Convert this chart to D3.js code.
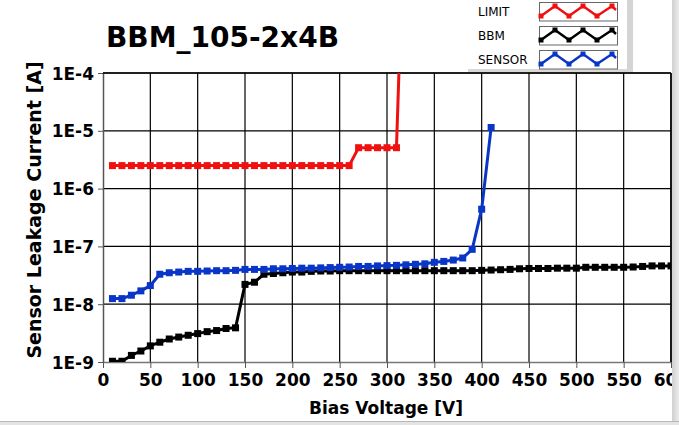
<!DOCTYPE html>
<html>
<head>
<meta charset="utf-8">
<script src="https://cdn.jsdelivr.net/npm/d3@7"></script>
<style>
  body { margin: 0; background: #fff; }
  text { font-family: "DejaVu Sans", Verdana, sans-serif; }
</style>
</head>
<body>
<div id="chart"></div>
<script>
var limitVoltage = [10, 20, 30, 40, 50, 60, 70, 80, 90, 100, 110, 120, 130, 140, 150, 160, 170, 180, 190, 200, 210, 220, 230, 240, 250, 260, 270, 280, 290, 300, 310, 320];
var limitCurrent = [2.5e-6, 2.5e-6, 2.5e-6, 2.5e-6, 2.5e-6, 2.5e-6, 2.5e-6, 2.5e-6, 2.5e-6, 2.5e-6, 2.5e-6, 2.5e-6, 2.5e-6, 2.5e-6, 2.5e-6, 2.5e-6, 2.5e-6, 2.5e-6, 2.5e-6, 2.5e-6, 2.5e-6, 2.5e-6, 2.5e-6, 2.5e-6, 2.5e-6, 2.5e-6, 5.1e-6, 5.1e-6, 5.1e-6, 5.1e-6, 5.1e-6, 0.5];

var bbmVoltage = [10, 20, 30, 40, 50, 60, 70, 80, 90, 100, 110, 120, 130, 140, 150, 160, 170, 180, 190, 200, 210, 220, 230, 240, 250, 260, 270, 280, 290, 300, 310, 320, 330, 340, 350, 360, 370, 380, 390, 400, 410, 420, 430, 440, 450, 460, 470, 480, 490, 500, 510, 520, 530, 540, 550, 560, 570, 580, 590, 600];
var bbmCurrent = [1.03e-9, 1.03e-9, 1.3e-9, 1.55e-9, 1.9e-9, 2.2e-9, 2.5e-9, 2.7e-9, 2.9e-9, 3.1e-9, 3.35e-9, 3.5e-9, 3.8e-9, 3.9e-9, 2.2e-8, 2.4e-8, 3.3e-8, 3.4e-8, 3.5e-8, 3.6e-8, 3.6e-8, 3.7e-8, 3.75e-8, 3.75e-8, 3.8e-8, 3.8e-8, 3.8e-8, 3.8e-8, 3.8e-8, 3.8e-8, 3.8e-8, 3.8e-8, 3.8e-8, 3.8e-8, 3.8e-8, 3.8e-8, 3.8e-8, 3.8e-8, 3.8e-8, 3.85e-8, 3.9e-8, 3.95e-8, 4.0e-8, 4.1e-8, 4.15e-8, 4.15e-8, 4.15e-8, 4.2e-8, 4.2e-8, 4.2e-8, 4.35e-8, 4.35e-8, 4.35e-8, 4.35e-8, 4.35e-8, 4.4e-8, 4.5e-8, 4.6e-8, 4.6e-8, 4.6e-8];

var sensorVoltage = [10, 20, 30, 40, 50, 60, 70, 80, 90, 100, 110, 120, 130, 140, 150, 160, 170, 180, 190, 200, 210, 220, 230, 240, 250, 260, 270, 280, 290, 300, 310, 320, 330, 340, 350, 360, 370, 380, 390, 400, 410];
var sensorCurrent = [1.25e-8, 1.25e-8, 1.43e-8, 1.7e-8, 2.1e-8, 3.3e-8, 3.5e-8, 3.6e-8, 3.7e-8, 3.7e-8, 3.75e-8, 3.8e-8, 3.8e-8, 3.85e-8, 4.0e-8, 4.0e-8, 4.0e-8, 4.1e-8, 4.1e-8, 4.15e-8, 4.2e-8, 4.2e-8, 4.25e-8, 4.3e-8, 4.35e-8, 4.4e-8, 4.5e-8, 4.5e-8, 4.6e-8, 4.65e-8, 4.7e-8, 4.8e-8, 4.9e-8, 5.0e-8, 5.3e-8, 5.5e-8, 5.8e-8, 6.3e-8, 8.9e-8, 4.4e-7, 1.14e-5];

var xTicks = [0, 50, 100, 150, 200, 250, 300, 350, 400, 450, 500, 550, 600];
var yTicks = [1e-9, 1e-8, 1e-7, 1e-6, 1e-5, 1e-4];

var seriesNames = ["LIMIT", "BBM", "SENSOR"];
var seriesColors = ["#f01010", "#000000", "#0a36c8"];

var svgWidth = 679;
var svgHeight = 425;

var margin = { top: 73, right: 8, bottom: 63, left: 103 };
var width = 671 - margin.left;
var height = 362 - margin.top;

var svg = d3
  .select("#chart")
  .append("svg")
  .attr("width", svgWidth)
  .attr("height", svgHeight);

var chartGroup = svg
  .append("g")
  .attr("transform", `translate(${margin.left}, ${margin.top})`);

var xScale = d3.scaleLinear().domain([0, 600]).range([0, width]);
var yScale = d3.scaleLog().domain([1e-9, 1e-4]).range([height, 0]);

chartGroup
  .append("clipPath")
  .attr("id", "plotClip")
  .append("rect")
  .attr("x", 0)
  .attr("y", 0)
  .attr("width", width)
  .attr("height", height);

// grid
chartGroup
  .selectAll(".vgrid")
  .data(xTicks.slice(1))
  .enter()
  .append("line")
  .attr("x1", (d) => xScale(d))
  .attr("x2", (d) => xScale(d))
  .attr("y1", 0)
  .attr("y2", height)
  .attr("stroke", "#000")
  .attr("stroke-width", 1.2);

chartGroup
  .selectAll(".hgrid")
  .data(yTicks.slice(1))
  .enter()
  .append("line")
  .attr("x1", 0)
  .attr("x2", width)
  .attr("y1", (d) => yScale(d))
  .attr("y2", (d) => yScale(d))
  .attr("stroke", "#000")
  .attr("stroke-width", 1.2);

var bottomAxis = d3.axisBottom(xScale).tickValues(xTicks).tickSize(6).tickSizeOuter(0);
var leftAxis = d3
  .axisLeft(yScale)
  .tickValues(yTicks)
  .tickSize(5)
  .tickSizeOuter(0)
  .tickFormat((d) => "1E" + Math.round(Math.log10(d)));

var xAxis = chartGroup
  .append("g")
  .attr("transform", `translate(0, ${height})`)
  .call(bottomAxis);

var yAxis = chartGroup.append("g").call(leftAxis);

xAxis.select(".domain").attr("stroke", "#777").attr("stroke-width", 1.5);
yAxis.select(".domain").attr("stroke", "#555").attr("stroke-width", 1.5);
xAxis.selectAll(".tick line").attr("stroke", "#555");
yAxis.selectAll(".tick line").attr("stroke", "#555");

xAxis
  .selectAll(".tick text")
  .attr("y", 12)
  .attr("dy", "0.71em")
  .attr("font-size", "17px")
  .attr("font-weight", "bold")
  .attr("fill", "#000");

yAxis
  .selectAll(".tick text")
  .attr("x", -9)
  .attr("dy", "0.36em")
  .attr("font-size", "17px")
  .attr("font-weight", "bold")
  .attr("fill", "#000");

// frame top and right
chartGroup
  .append("line")
  .attr("x1", 0)
  .attr("x2", width)
  .attr("y1", 0)
  .attr("y2", 0)
  .attr("stroke", "#000")
  .attr("stroke-width", 1.5);

chartGroup
  .append("line")
  .attr("x1", width)
  .attr("x2", width)
  .attr("y1", 0)
  .attr("y2", height)
  .attr("stroke", "#000")
  .attr("stroke-width", 1.5);

var series = [
  { v: limitVoltage, c: limitCurrent },
  { v: bbmVoltage, c: bbmCurrent },
  { v: sensorVoltage, c: sensorCurrent },
];

var line = d3
  .line()
  .x((d) => xScale(d[0]))
  .y((d) => yScale(d[1]));

var plotGroup = chartGroup.append("g").attr("clip-path", "url(#plotClip)");

series.forEach(function (s, i) {
  var pts = s.v.map((v, j) => [v, s.c[j]]);

  plotGroup
    .append("path")
    .datum(pts)
    .attr("d", line)
    .attr("fill", "none")
    .attr("stroke", seriesColors[i])
    .attr("stroke-width", 3)
    .attr("stroke-linejoin", "round");

  plotGroup
    .selectAll(".marker" + i)
    .data(pts)
    .enter()
    .append("rect")
    .attr("x", (d) => xScale(d[0]) - 3.5)
    .attr("y", (d) => yScale(d[1]) - 3.5)
    .attr("width", 7)
    .attr("height", 7)
    .attr("fill", seriesColors[i]);
});

// axis titles
svg
  .append("text")
  .attr("x", 386)
  .attr("y", 414)
  .attr("text-anchor", "middle")
  .attr("font-size", "17px")
  .attr("font-weight", "bold")
  .text("Bias Voltage [V]");

svg
  .append("text")
  .attr("transform", "translate(41, 210) rotate(-90)")
  .attr("text-anchor", "middle")
  .attr("font-size", "19px")
  .attr("font-weight", "bold")
  .text("Sensor Leakage Current [A]");

// title
svg
  .append("text")
  .attr("x", 106)
  .attr("y", 47)
  .attr("font-size", "28px")
  .attr("font-weight", "bold")
  .text("BBM_105-2x4B");

// legend panel
var legend = svg.append("g");

legend
  .append("rect")
  .attr("x", 468)
  .attr("y", 0)
  .attr("width", 164)
  .attr("height", 71)
  .attr("fill", "#fff");

legend
  .append("rect")
  .attr("x", 627)
  .attr("y", 0)
  .attr("width", 6)
  .attr("height", 72)
  .attr("fill", "#d4d4d4");

legend
  .append("rect")
  .attr("x", 468)
  .attr("y", 69)
  .attr("width", 165)
  .attr("height", 3)
  .attr("fill", "#d8d8d8");

var boxTop = [2, 26, 50];

seriesNames.forEach(function (name, i) {
  legend
    .append("text")
    .attr("x", 478)
    .attr("y", boxTop[i] + 14)
    .attr("font-size", "12px")
    .attr("fill", "#000")
    .text(name);

  legend
    .append("rect")
    .attr("x", 539.5)
    .attr("y", boxTop[i] + 0.5)
    .attr("width", 78)
    .attr("height", 18.5)
    .attr("fill", "#fff")
    .attr("stroke", "#666");

  var zig = [
    [541, 14],
    [555, 4],
    [569, 14],
    [583, 4],
    [597, 14],
    [612, 4],
    [616, 8],
  ].map((p) => [p[0], p[1] + boxTop[i]]);

  legend
    .append("path")
    .attr("d", d3.line()(zig))
    .attr("fill", "none")
    .attr("stroke", seriesColors[i])
    .attr("stroke-width", 2.5);

  legend
    .selectAll(".lm" + i)
    .data(zig.slice(0, 6))
    .enter()
    .append("rect")
    .attr("x", (d) => d[0] - 2.5)
    .attr("y", (d) => d[1] - 2.5)
    .attr("width", 5)
    .attr("height", 5)
    .attr("fill", seriesColors[i]);
});

// window edges
var grad = svg.append("defs").append("linearGradient").attr("id", "edge");
grad.append("stop").attr("offset", "0%").attr("stop-color", "#cfcfcf");
grad.append("stop").attr("offset", "100%").attr("stop-color", "#ececec");

svg
  .append("rect")
  .attr("x", 672)
  .attr("y", 0)
  .attr("width", 7)
  .attr("height", svgHeight)
  .attr("fill", "url(#edge)");

svg
  .append("rect")
  .attr("x", 0)
  .attr("y", 421)
  .attr("width", svgWidth)
  .attr("height", 4)
  .attr("fill", "#e4e4e4");

svg
  .append("line")
  .attr("x1", 0)
  .attr("x2", svgWidth)
  .attr("y1", 421.5)
  .attr("y2", 421.5)
  .attr("stroke", "#b8b8b8");
</script>
</body>
</html>
